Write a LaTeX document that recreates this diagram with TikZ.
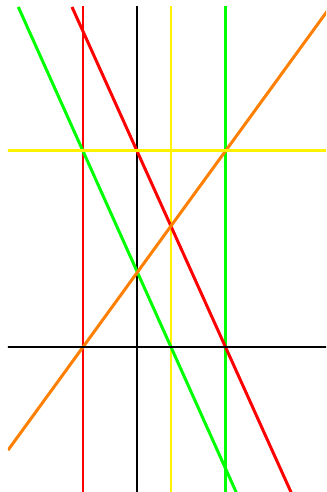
\documentclass[tikz,border=0pt]{standalone}
\usetikzlibrary{calc}

\begin{document}
\begin{tikzpicture}[x=0.02cm,y=0.02cm,
  ln/.style={line width=1.7pt}]
\useasboundingbox (-137,-145) rectangle (189,347);
\clip (-129,-145) rectangle (189,340);
% vertical lines
\draw[ln,red] (-54,-160) -- (-54,360);
\draw[ln,black] (0,-160) -- (0,360);
\draw[ln,yellow] (34,-160) -- (34,360);
\draw[ln,green] (88.5,-160) -- (88.5,360);
% slanted lines
\draw[ln,red] (-65,340) -- (160.7,-160);
\draw[ln,green] (-118.7,340) -- (105.8,-160);
\draw[ln,orange] (-129,-103.2) -- (193.2,340);
% horizontal lines
\draw[ln,black] (-140,0) -- (200,0);
\draw[ln,yellow] (-140,196) -- (200,196);
\end{tikzpicture}
\end{document}
